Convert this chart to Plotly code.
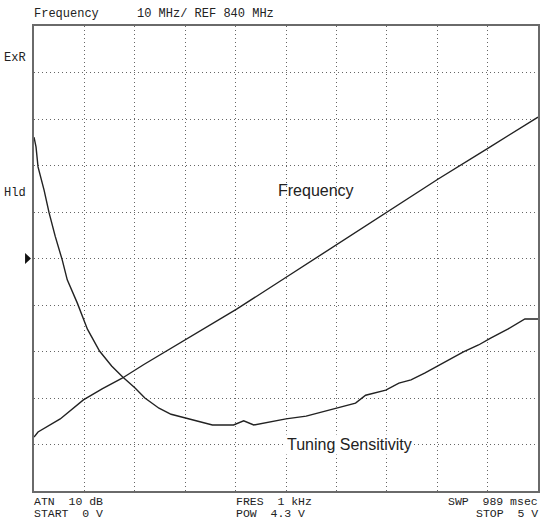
import plotly.graph_objects as go

# ---- data ----
# Tuning voltage (V) and output frequency (MHz), 10 MHz/div, REF 840 MHz
freq_volts = [0.0, 0.04, 0.26, 0.49, 0.68, 0.87, 1.09, 1.34, 1.64, 2.01, 2.49, 3.0, 3.5, 4.01, 4.51, 5.0]
freq_mhz = [751.6, 752.7, 755.5, 759.6, 762.0, 764.2, 767.2, 770.4, 774.2, 779.1, 785.8, 792.9, 800.0, 807.1, 813.8, 820.4]

# Tuning sensitivity trace (in screen divisions above the bottom graticule line)
sens_volts = [0.0, 0.02, 0.04, 0.1, 0.15, 0.21, 0.28, 0.33, 0.43, 0.53, 0.65, 0.77, 0.88,
              1.0, 1.1, 1.24, 1.36, 1.5, 1.64, 1.77, 1.98, 2.08, 2.18, 2.33, 2.5, 2.7,
              2.85, 2.99, 3.19, 3.29, 3.49, 3.62, 3.74, 3.88, 4.01, 4.14, 4.26, 4.41,
              4.53, 4.7, 4.87, 5.0]
sens_div = [7.61, 7.4, 6.97, 6.47, 5.98, 5.48, 4.97, 4.54, 4.04, 3.48, 3.01, 2.69, 2.45,
            2.22, 2.0, 1.78, 1.65, 1.57, 1.48, 1.42, 1.42, 1.51, 1.42, 1.48, 1.55, 1.61,
            1.7, 1.78, 1.89, 2.06, 2.17, 2.32, 2.39, 2.54, 2.69, 2.84, 2.99, 3.14,
            3.29, 3.48, 3.7, 3.7]

x_ticks = [0.5 * i for i in range(11)]
y_ticks = [740 + 10 * i for i in range(11)]

top_labels = ["Frequency", "10 MHz/ REF 840 MHz"]
bottom_left = ["ATN  10 dB", "START  0 V"]
bottom_mid = ["FRES  1 kHz", "POW  4.3 V"]
bottom_right = ["SWP  989 msec", "STOP  5 V"]
side_labels = ["ExR", "Hld"]

# ---- layout geometry ----
W, H = 542, 521
L, R, T, B = 34, 540, 26, 491


def px(x):
    return (x - L) / (R - L)


def py(y):
    return (B - y) / (B - T)


fig = go.Figure()
fig.add_trace(go.Scatter(x=freq_volts, y=freq_mhz, mode="lines",
                         line=dict(color="#222222", width=1.4), hoverinfo="skip"))
fig.add_trace(go.Scatter(x=sens_volts, y=sens_div, mode="lines", yaxis="y2",
                         line=dict(color="#222222", width=1.4), hoverinfo="skip"))

mono = dict(family="Liberation Mono, DejaVu Sans Mono, monospace", size=12, color="#222222")
mono_s = dict(family="Liberation Mono, DejaVu Sans Mono, monospace", size=11.5, color="#222222")
sans = dict(family="Liberation Sans, Arial, sans-serif", size=16, color="#222222")

ann = []


def add(text, x, y, font, xanchor="left", **kw):
    ann.append(dict(text=text, x=px(x), y=py(y), xref="paper", yref="paper",
                    showarrow=False, xanchor=xanchor, yanchor="middle", font=font,
                    borderpad=0, **kw))


add(top_labels[0], 33, 14, mono)
add(top_labels[1], 136, 14, mono)
add(bottom_left[0], 33, 501, mono_s)
add(bottom_left[1], 33, 513, mono_s)
add(bottom_mid[0], 236, 501, mono_s)
add(bottom_mid[1], 236, 513, mono_s)
add(bottom_right[0], 541, 501, mono_s, xanchor="right")
add(bottom_right[1], 541, 513, mono_s, xanchor="right")
add(side_labels[0], 3, 58, mono)
add(side_labels[1], 3, 193, mono)
add("Frequency", 317, 190, sans, xanchor="center")
ann.append(dict(text="Tuning Sensitivity", x=px(351), y=py(444), xref="paper", yref="paper",
                showarrow=False, xanchor="center", yanchor="middle", font=sans,
                bgcolor="white", borderpad=1))

fig.update_layout(
    width=W, height=H,
    margin=dict(l=L, r=W - R, t=T, b=H - B),
    paper_bgcolor="white", plot_bgcolor="white",
    showlegend=False,
    xaxis=dict(range=[0, 5], tickvals=x_ticks, showticklabels=False, ticks="",
               showgrid=True, gridcolor="#666666", gridwidth=1, griddash="1px,3px",
               zeroline=False, showline=True, linecolor="#6a6a6a", linewidth=2, mirror=True,
               fixedrange=True),
    yaxis=dict(range=[740, 840], tickvals=y_ticks, showticklabels=False, ticks="",
               showgrid=True, gridcolor="#666666", gridwidth=1, griddash="1px,3px",
               zeroline=False, showline=True, linecolor="#6a6a6a", linewidth=2, mirror=True,
               fixedrange=True),
    yaxis2=dict(range=[0, 10], overlaying="y", visible=False, fixedrange=True),
    annotations=ann,
    shapes=[dict(type="path", xref="paper", yref="paper",
                 path=f"M {px(25)} {py(253)} L {px(31)} {py(258.5)} L {px(25)} {py(264)} Z",
                 fillcolor="#111111", line=dict(width=0))],
)

fig.write_html("out.html", config={"displayModeBar": False},
               post_script="document.body.style.margin='0px';document.body.style.overflow='hidden';")
